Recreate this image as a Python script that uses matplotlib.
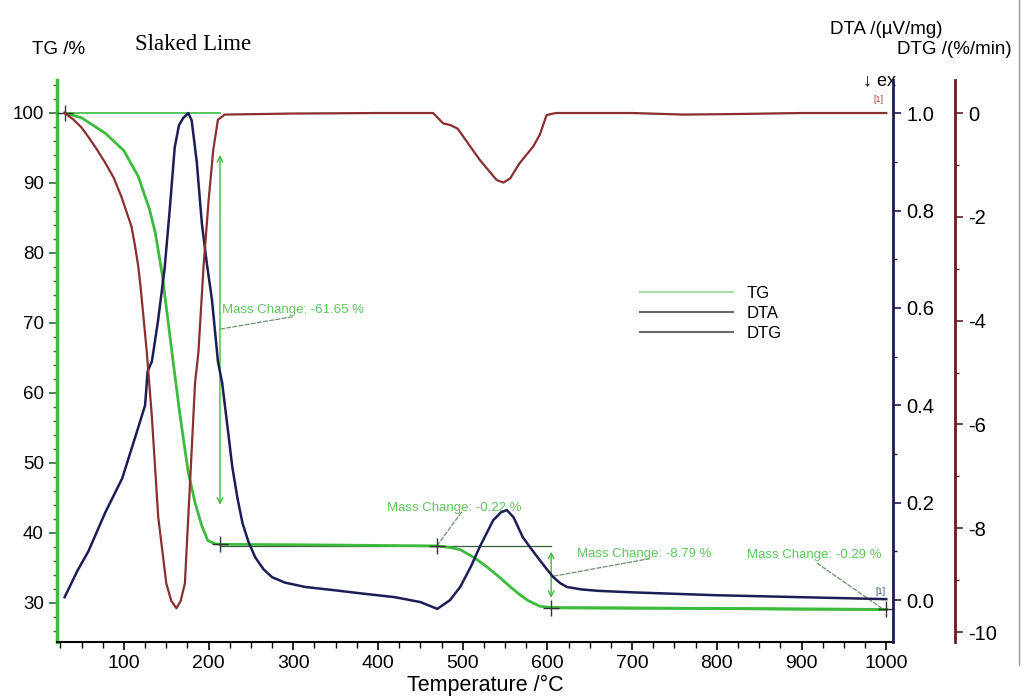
import numpy as np
import matplotlib
matplotlib.use('Agg')
import matplotlib.pyplot as plt
from matplotlib.ticker import MultipleLocator, FormatStrFormatter
from matplotlib.lines import Line2D

plt.rcParams['font.family'] = ['Liberation Sans', 'DejaVu Sans']
plt.rcParams['axes.unicode_minus'] = False

# TG curve (%)
tg_t = [30, 50, 78, 100, 117, 130, 137, 145, 157, 166, 176, 184, 192, 199, 207, 215,
        300, 400, 470, 485, 497, 513, 529, 543, 556, 566, 576, 591, 607, 700, 800, 900, 1000]
tg = [100, 99.3, 97.1, 94.6, 90.9, 86.3, 82.9, 77.1, 65.5, 57.0, 48.6, 44.3, 41.0, 38.9, 38.45, 38.35,
      38.3, 38.2, 38.13, 37.9, 37.6, 36.5, 35.1, 33.7, 32.3, 31.3, 30.4, 29.5, 29.3, 29.25, 29.2, 29.1, 29.05]

# DTA curve (uV/mg)
dta_t = [30, 45, 58, 78, 98, 117, 125, 128, 133, 140, 148, 154, 160, 165, 170, 176, 180, 186,
         192, 198, 204, 211, 216, 222, 228, 234, 240, 247, 255, 265, 275, 290, 314, 350, 379,
         420, 450, 470, 485, 497, 510, 520, 536, 545, 552, 560, 571, 581, 591, 600, 607, 615,
         623, 640, 660, 700, 733, 800, 900, 1000]
dta = [0.006, 0.06, 0.10, 0.18, 0.25, 0.355, 0.40, 0.47, 0.49, 0.57, 0.68, 0.80, 0.93, 0.975, 0.99, 1.0, 0.985, 0.9,
       0.774, 0.69, 0.616, 0.49, 0.446, 0.36, 0.273, 0.21, 0.158, 0.12, 0.088, 0.063, 0.047, 0.036, 0.027, 0.02, 0.014,
       0.006, -0.004, -0.018, 0.0, 0.027, 0.07, 0.109, 0.164, 0.18, 0.185, 0.17, 0.129, 0.105, 0.082, 0.062, 0.047, 0.035,
       0.027, 0.022, 0.019, 0.016, 0.014, 0.01, 0.006, 0.002]

# DTG curve (%/min)
dtg_t = [30, 40, 50, 58, 68, 78, 88, 97, 103, 109, 113, 117, 120, 123, 127, 133, 140.5, 150, 156, 162,
         167, 172, 176, 180, 184, 188, 194, 200, 205.5, 211, 219, 300, 400, 465, 477, 485, 494, 507,
         520, 540, 548, 556, 567, 583, 591, 599, 610, 700, 760, 820, 900, 1000]
dtg = [0, -0.12, -0.28, -0.46, -0.7, -0.96, -1.25, -1.61, -1.9, -2.19, -2.55, -2.96, -3.4, -3.92, -4.6, -5.85,
       -7.78, -9.06, -9.4, -9.54, -9.4, -9.06, -7.78, -6.5, -5.2, -4.6, -2.96, -1.68, -0.71, -0.13, -0.03,
       -0.01, 0, 0, -0.2, -0.23, -0.3, -0.6, -0.9, -1.29, -1.34, -1.26, -0.97, -0.65, -0.42, -0.04, 0, 0,
       -0.03, -0.02, 0, 0]

# mass change steps
step_t = [30, 213.4, 470, 604.4, 1000]
step_tg = [100, 38.4, 38.1, 29.3, 29.05]
mass_labels = ['Mass Change: -61.65 %', 'Mass Change: -0.22 %',
               'Mass Change: -8.79 %', 'Mass Change: -0.29 %']

green = '#3dbb3d'
navy = '#1d1d55'
brown = '#8a2e2e'
brown_sp = '#5e1f1f'

fig = plt.figure(figsize=(10.25, 7), dpi=100)
ax = fig.add_axes([57 / 1025, 58 / 700, 836 / 1025, 562 / 700])
ax2 = ax.twinx()
ax3 = ax.twinx()
ax3.spines['right'].set_position(('axes', 1.0742))

ax.plot(tg_t, tg, color=green, lw=2.0, zorder=3)
ax2.plot(dta_t, dta, color=navy, lw=1.8)
ax3.plot(dtg_t, dtg, color=brown, lw=1.6)

ax.set_xlim(21, 1008)
ax.set_ylim(24.4, 104.7)
ax2.set_ylim(-0.086, 1.068)
ax3.set_ylim(-10.19, 0.636)

# step evaluation lines
ax.plot([step_t[0], step_t[1]], [step_tg[0], step_tg[0]], color=green, lw=1.2)
ax.plot([step_t[1], step_t[3]], [38.1, 38.1], color='#3d5a3d', lw=0.9)
ax.plot([step_t[3], step_t[4]], [step_tg[3], step_tg[4]], color=green, lw=2.0)
ax.plot(step_t, step_tg, ls='none', marker='+', ms=11, mew=1.0, color='#333333', zorder=4)
ax.annotate('', xy=(step_t[1], 94.0), xytext=(step_t[1], 44.0),
            arrowprops=dict(arrowstyle='<->', color=green, lw=1.0, mutation_scale=10,
                            shrinkA=0, shrinkB=0))
ax.annotate('', xy=(step_t[3], 37.3), xytext=(step_t[3], 30.7),
            arrowprops=dict(arrowstyle='<->', color=green, lw=1.0, mutation_scale=10,
                            shrinkA=0, shrinkB=0))

# mass change labels with leader lines
lab_pos = [(215.7, 71.9), (410.3, 43.5), (635, 37.0), (835.4, 36.9)]
lead = [((213.4, 69.1), (300, 70.9)), ((469.3, 38.1), (498.8, 43.0)),
        ((607, 33.8), (720, 36.3)), ((918, 35.7), (995, 29.2))]
for txt, (x, y), (p0, p1) in zip(mass_labels, lab_pos, lead):
    ax.text(x, y, txt, color='#5cc85c', fontsize=9.5, va='center', ha='left')
    ax.plot([p0[0], p1[0]], [p0[1], p1[1]], color='#6f8f6f', lw=0.9, ls=(0, (4, 1)))

ax.text(990.5, 101.9, '[1]', color='#b04040', fontsize=6.5, ha='center', va='center')
ax.text(993, 31.6, '[1]', color='#2a5a7a', fontsize=6.5, ha='center', va='center')
ax.text(972.8, 104.6, '\u2193 ex', fontsize=13, ha='left', va='center', clip_on=False)

# axes styling
for a in (ax, ax2, ax3):
    a.spines['top'].set_visible(False)
ax2.spines['left'].set_visible(False)
ax3.spines['left'].set_visible(False)
ax2.spines['bottom'].set_visible(False)
ax3.spines['bottom'].set_visible(False)
ax.spines['right'].set_visible(False)
ax.spines['left'].set_color(green)
ax.spines['left'].set_linewidth(2.5)
ax.spines['bottom'].set_linewidth(1.5)
ax2.spines['right'].set_color(navy)
ax2.spines['right'].set_linewidth(2.0)
ax3.spines['right'].set_color(brown_sp)
ax3.spines['right'].set_linewidth(2.0)

ax.xaxis.set_minor_locator(MultipleLocator(25))
ax.set_xticks(np.arange(100, 1001, 100))
ax.yaxis.set_major_locator(MultipleLocator(10))
ax.yaxis.set_minor_locator(MultipleLocator(2))
ax2.yaxis.set_major_locator(MultipleLocator(0.2))
ax2.yaxis.set_minor_locator(MultipleLocator(0.1))
ax2.yaxis.set_major_formatter(FormatStrFormatter('%.1f'))
ax3.yaxis.set_minor_locator(MultipleLocator(1))
ax3.set_yticks([0, -2, -4, -6, -8, -10])

ax.tick_params(axis='x', which='major', direction='out', length=6, width=1.2, labelsize=14)
ax.tick_params(axis='x', which='minor', direction='out', length=4, width=1.0)
ax.tick_params(axis='y', which='major', direction='out', length=6, width=1.2, color='#2f6f2f', labelsize=13.5)
ax.tick_params(axis='y', which='minor', direction='out', length=3, width=1.0, color='#2f6f2f')
ax2.tick_params(axis='y', which='major', direction='out', length=6, width=1.2, color=navy, labelsize=14.5)
ax2.tick_params(axis='y', which='minor', direction='out', length=3, width=1.0, color=navy)
ax3.tick_params(axis='y', which='major', direction='out', length=6, width=1.2, color=brown_sp, labelsize=14.5)
ax3.tick_params(axis='y', which='minor', direction='out', length=3, width=1.0, color=brown_sp)

ax.set_xlabel('Temperature /\u00b0C', fontsize=15.5, labelpad=1)
ax.xaxis.set_label_coords(0.512, -0.058)

fig.text(32 / 1025, 1 - 50 / 700, 'TG /%', fontsize=13.5, va='center', ha='left')
fig.text(135 / 1025, 1 - 45 / 700, 'Slaked Lime', fontsize=16.5, family='Liberation Serif',
         va='center', ha='left')
fig.text(830 / 1025, 1 - 29 / 700, 'DTA /(\u00b5V/mg)', fontsize=13.5, va='center', ha='left')
fig.text(897 / 1025, 1 - 50 / 700, 'DTG /(%/min)', fontsize=13.5, va='center', ha='left')

handles = [Line2D([], [], color='#a6dca6', lw=1.5),
           Line2D([], [], color='#6a6a6a', lw=1.5),
           Line2D([], [], color='#6a6a6a', lw=1.5)]
ax.legend(handles, ['TG', 'DTA', 'DTG'], loc='upper left', bbox_to_anchor=(0.683, 0.655),
          frameon=False, fontsize=12, handlelength=5.6, handletextpad=0.8, labelspacing=0.3,
          borderpad=0.2)

fig.add_artist(Line2D([1019 / 1025, 1019 / 1025], [0.05, 1.0], color='#999999', lw=1.0))

fig.savefig('out.png', dpi=100)
